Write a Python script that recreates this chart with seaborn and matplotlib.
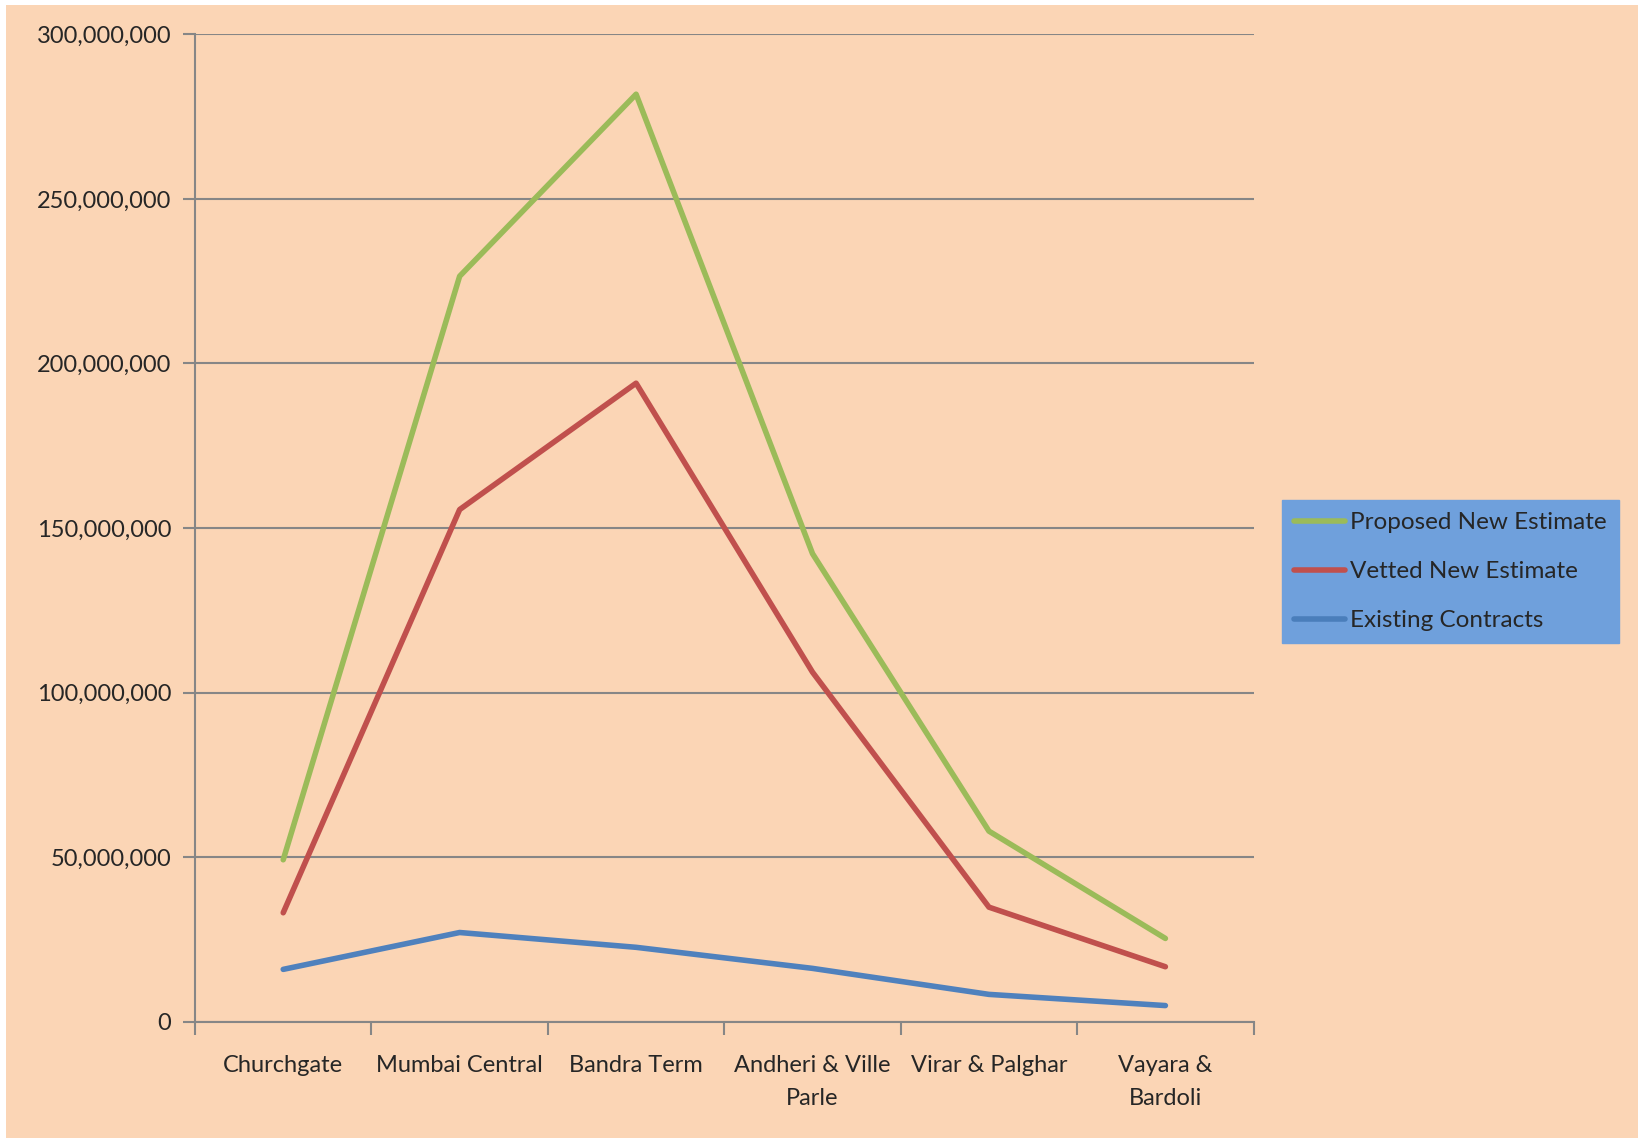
import matplotlib
matplotlib.use("Agg")
import matplotlib.pyplot as plt
import matplotlib.ticker as mticker
from matplotlib.patches import Rectangle
import seaborn as sns
import pandas as pd
import numpy as np

categories = ["Churchgate", "Mumbai Central", "Bandra Term", "Andheri & Ville\nParle",
              "Virar & Palghar", "Vayara &\nBardoli"]
proposed = [49.2e6, 226.5e6, 281.8e6, 142.2e6, 57.9e6, 25.3e6]
vetted = [33.1e6, 155.6e6, 194.0e6, 106.2e6, 34.8e6, 16.7e6]
existing = [15.9e6, 27.1e6, 22.6e6, 16.2e6, 8.3e6, 4.9e6]
series_names = ["Proposed New Estimate", "Vetted New Estimate", "Existing Contracts"]
colors = ["#9BBB59", "#C0504D", "#4F81BD"]

BG = "#FBD5B5"

rows = []
for name, vals in zip(series_names, [proposed, vetted, existing]):
    for i, v in enumerate(vals):
        rows.append({"pos": i, "value": v, "series": name})
df = pd.DataFrame(rows)

sns.set_style("white")
plt.rcParams['font.family'] = ['Lato', 'DejaVu Sans']

fig = plt.figure(figsize=(16.38, 11.38), dpi=100)
fig.patch.set_facecolor("white")
fig.patches.append(Rectangle((6 / 1638, 0), 1, 1 - 5 / 1138, transform=fig.transFigure,
                             facecolor=BG, edgecolor="none", zorder=-10))
ax = fig.add_axes([195 / 1638, 1 - 1021.7 / 1138, (1253.6 - 195) / 1638, (1021.7 - 34.3) / 1138])
ax.set_facecolor(BG)

sns.lineplot(data=df, x="pos", y="value", hue="series", hue_order=series_names,
             palette=colors, linewidth=4, ax=ax, legend=False, zorder=3)

ax.set_xlim(-0.5, len(categories) - 0.5)
ax.set_ylim(0, 300e6)
ax.yaxis.set_major_locator(mticker.MultipleLocator(50e6))
ax.yaxis.set_major_formatter(mticker.FuncFormatter(lambda v, p: f"{int(v):,}"))
ax.grid(axis="y", color="#868686", linewidth=1.5, zorder=0)
ax.set_axisbelow(True)

ax.set_xticks(np.arange(-0.5, len(categories), 1.0))
ax.set_xticklabels([])
ax.set_xticks(np.arange(len(categories)), minor=True)
ax.set_xticklabels(categories, minor=True, fontsize=17, va="top", linespacing=1.7)
ax.tick_params(axis="x", which="minor", length=0, pad=24, bottom=True)
ax.tick_params(axis="x", which="major", length=9, width=1.5, color="#868686",
               direction="out", bottom=True)
ax.tick_params(axis="y", length=9, width=1.5, color="#868686", direction="out",
               labelsize=17, pad=8, left=True)
ax.set_xlabel("")
ax.set_ylabel("")

for s in ["top", "right"]:
    ax.spines[s].set_visible(False)
for s in ["left", "bottom"]:
    ax.spines[s].set_color("#868686")
    ax.spines[s].set_linewidth(1.5)

handles = [plt.Line2D([], [], color=c, linewidth=4) for c in colors]
handles[2] = plt.Line2D([], [], color="#4A7EBB", linewidth=4)
leg = fig.legend(handles, series_names, loc="upper left",
                 bbox_to_anchor=(1282 / 1638, 1 - 500 / 1138),
                 frameon=True, fontsize=17.5, handlelength=2.1, handletextpad=0.2,
                 labelspacing=1.15, borderpad=0.5, borderaxespad=0, fancybox=False)
leg.get_frame().set_facecolor("#6FA0DC")
leg.get_frame().set_edgecolor("#6FA0DC")
leg.get_frame().set_alpha(1)

fig.savefig("out.png", dpi=100, facecolor=fig.get_facecolor())
